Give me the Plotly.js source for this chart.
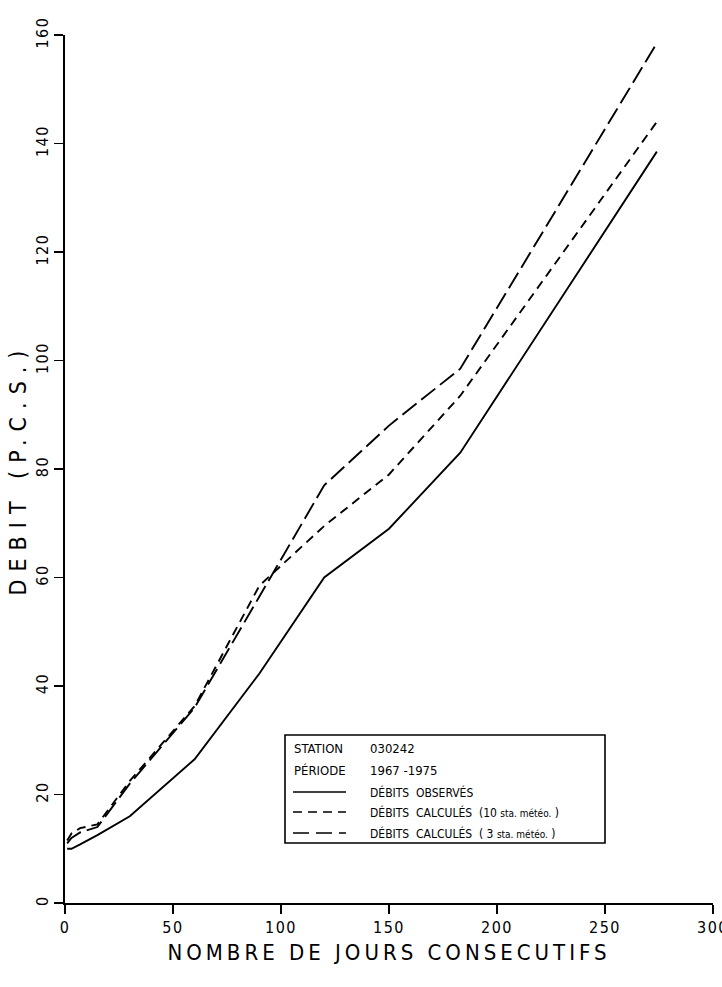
<!DOCTYPE html>
<html>
<head>
<meta charset="utf-8">
<script src="https://cdn.plot.ly/plotly-3.0.1.min.js"></script>
<style>
  html, body { margin: 0; padding: 0; background: #fff; }
  #chart { width: 722px; height: 987px; }
  .xtitle { letter-spacing: 4px; }
  .ytitle { letter-spacing: 8px; }
  .xtick text, .ytick text { letter-spacing: 1.5px; }
</style>
</head>
<body>
<div id="chart"></div>
<script>
// Durée (jours consécutifs) et débits correspondants, station 030242
const days      = [1, 3, 7, 15, 30, 60, 90, 120, 150, 183, 274];
const observed  = [10, 10, 10.8, 12.5, 16, 26.5, 42.3, 60, 69, 83, 138.5];
const calc10sta = [11.5, 12.8, 13.8, 14.5, 22.5, 36.3, 58.5, 69.5, 79, 93.5, 144];
const calc3sta  = [11, 12, 13, 14, 22, 36, 56.5, 77, 88, 98.5, 158.5];

const xTicks = [0, 50, 100, 150, 200, 250, 300];
const yTicks = [0, 20, 40, 60, 80, 100, 120, 140, 160];

const legendHeader = [["STATION", "030242"], ["PÉRIODE", "1967 -1975"]];
const legendItems = [
  {label: "DÉBITS  OBSERVÉS", dash: "solid"},
  {label: "DÉBITS  CALCULÉS  (10 <span style='font-size:10px'>sta. météo.</span> )", dash: "9px,6px"},
  {label: "DÉBITS  CALCULÉS  ( 3 <span style='font-size:10px'>sta. météo.</span> )", dash: "16px,7px"}
];

const FONT = "Liberation Sans Narrow, DejaVu Sans Condensed, Arial Narrow, sans-serif";
const M = {l: 65, r: 9, t: 35, b: 84};
const W = 722, H = 987;
const PW = W - M.l - M.r, PH = H - M.t - M.b;
// page pixel -> paper fraction
const px = x => (x - M.l) / PW;
const py = y => (H - M.b - y) / PH;

const lineStyle = d => ({color: "#000", width: 1.9, dash: d});

const traces = [
  {x: days, y: observed,  mode: "lines", line: lineStyle("solid"),    name: "observed"},
  {x: days, y: calc10sta, mode: "lines", line: lineStyle("9px,6px"),  name: "calc10"},
  {x: days, y: calc3sta,  mode: "lines", line: lineStyle("18px,6px"), name: "calc3"}
];

// Cartouche (boîte de légende)
const box = {x0: 285, x1: 605, y0: 735, y1: 843};
const rowY = [748, 770, 792, 812, 833];
const shapes = [{
  type: "rect", xref: "paper", yref: "paper",
  x0: px(box.x0), x1: px(box.x1), y0: py(box.y1), y1: py(box.y0),
  line: {color: "#000", width: 1.6}, fillcolor: "rgba(0,0,0,0)"
}];
const annotations = [];
legendHeader.forEach((row, i) => {
  annotations.push({xref: "paper", yref: "paper", x: px(292), y: py(rowY[i]), xanchor: "left", yanchor: "middle",
    text: row[0], showarrow: false, font: {family: FONT, size: 13, color: "#000"}});
  annotations.push({xref: "paper", yref: "paper", x: px(368), y: py(rowY[i]), xanchor: "left", yanchor: "middle",
    text: row[1], showarrow: false, font: {family: FONT, size: 13, color: "#000"}});
});
legendItems.forEach((it, i) => {
  const y = rowY[i + 2];
  shapes.push({type: "line", xref: "paper", yref: "paper", x0: px(293), x1: px(346), y0: py(y), y1: py(y),
    line: {color: "#000", width: 1.6, dash: it.dash}});
  annotations.push({xref: "paper", yref: "paper", x: px(368), y: py(y), xanchor: "left", yanchor: "middle",
    text: it.label, showarrow: false, font: {family: FONT, size: 12, color: "#000"}});
});

const layout = {
  width: W, height: H,
  margin: M,
  paper_bgcolor: "#fff", plot_bgcolor: "#fff",
  showlegend: false,
  font: {family: FONT, color: "#000"},
  xaxis: {
    range: [0, 300], tickvals: xTicks, ticktext: xTicks.map(String),
    showgrid: false, zeroline: false, showline: true, linecolor: "#000", linewidth: 2,
    ticks: "outside", ticklen: 9, tickwidth: 1.6, tickcolor: "#000",
    ticklabeloverflow: "allow",
    tickfont: {family: FONT, size: 16, color: "#000"},
    title: {text: "NOMBRE DE JOURS CONSECUTIFS", font: {family: FONT, size: 22, color: "#000"}, standoff: 8}
  },
  yaxis: {
    range: [0, 160], tickvals: yTicks, ticktext: yTicks.map(String),
    showgrid: false, zeroline: false, showline: true, linecolor: "#000", linewidth: 2,
    ticks: "outside", ticklen: 9, tickwidth: 1.6, tickcolor: "#000", tickangle: -90,
    ticklabeloverflow: "allow",
    tickfont: {family: FONT, size: 16, color: "#000"},
    title: {text: "DEBIT (P.C.S.)", font: {family: FONT, size: 23, color: "#000"}, standoff: 0}
  },
  shapes: shapes,
  annotations: annotations
};

Plotly.newPlot("chart", traces, layout, {staticPlot: true, displayModeBar: false});
</script>
</body>
</html>
